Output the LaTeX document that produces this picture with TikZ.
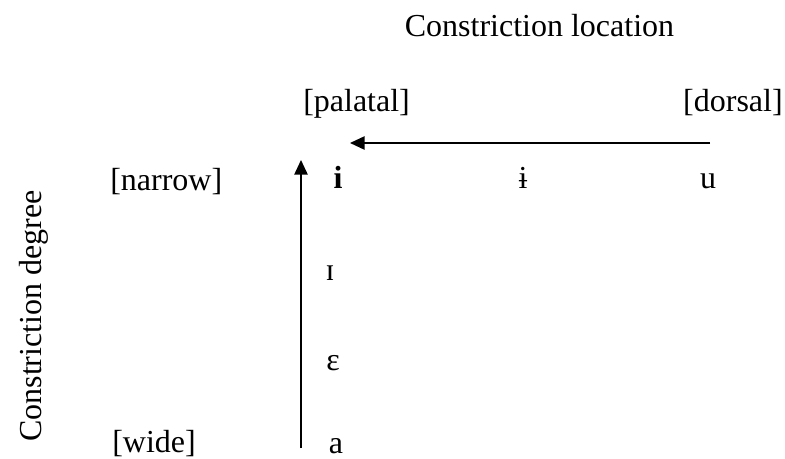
\documentclass[tikz,border=0pt]{standalone}
\usepackage{fontspec}
\setmainfont{Liberation Serif}
\usetikzlibrary{arrows.meta}
\begin{document}
\begin{tikzpicture}[x=0.75pt,y=-0.75pt,font=\fontsize{24}{29}\selectfont,
    lbl/.style={inner sep=0pt,anchor=base},
    axisarrow/.style={line width=1.2pt,-{Triangle[length=11pt,width=10pt]}}]
                \useasboundingbox (0,0) rectangle (785,459);
                \node[lbl] (loc) at (539.5,37) {Constriction location};
                \node[lbl,rotate=90] (deg) at (41,316) {Constriction degree};
                \node[lbl,anchor=base west] (palatal) at (303,112) {[palatal]};
                \node[lbl,anchor=base east] (dorsal) at (783,112) {[dorsal]};
                \node[lbl,anchor=base west] (narrow) at (110,191) {[narrow]};
                \node[lbl,anchor=base west] (wide) at (112,452) {[wide]};
                \node[lbl] (vi) at (338,189) {\textbf{i}};
                \node[lbl] (vbari) at (523,189) {ɨ};
                \node[lbl] (vu) at (708,189) {u};
                \node[lbl] (vsmalli) at (330,281) {ɪ};
                \node[lbl] (veps) at (333,371) {ɛ};
                \node[lbl] (va) at (336,453) {a};
                \coordinate (locfrom) at (710,143);
                \coordinate (locto) at (350,143);
                \coordinate (degfrom) at (301,448);
                \coordinate (degto) at (301,160);
                \draw[axisarrow] (locfrom) -- (locto);
                \draw[axisarrow] (degfrom) -- (degto);
            \end{tikzpicture}
\end{document}
